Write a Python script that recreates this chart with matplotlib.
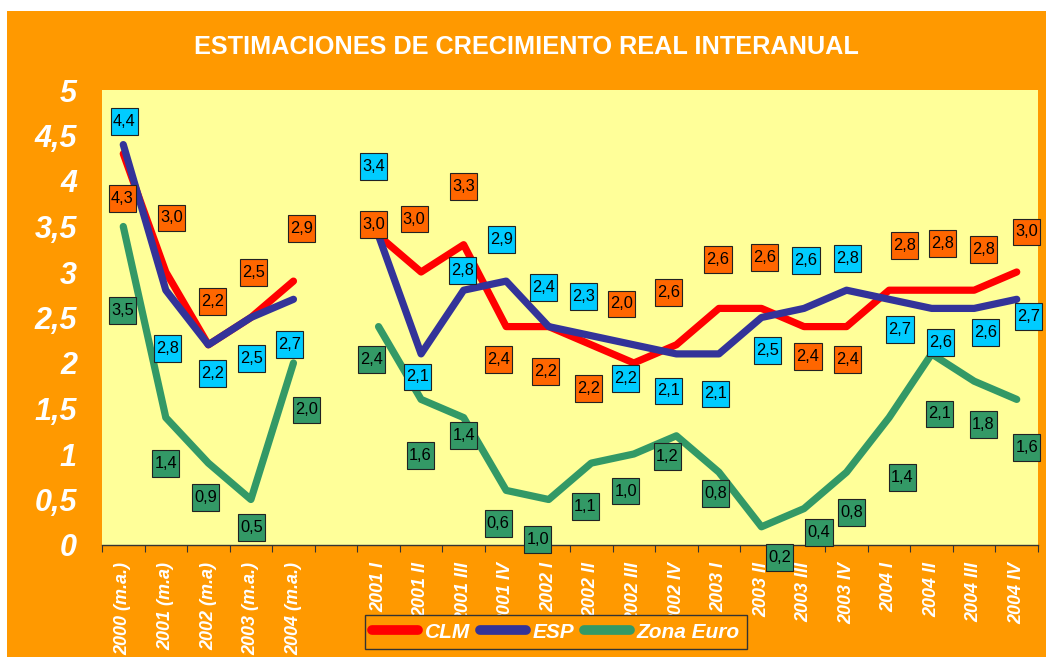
import matplotlib
matplotlib.use("Agg")
import matplotlib.pyplot as plt
from matplotlib.patches import Rectangle
from matplotlib.lines import Line2D
from matplotlib.path import Path
from matplotlib import font_manager

# ---------------- data ----------------
annual_labels = ["2000 (m.a.)", "2001 (m.a)", "2002 (m.a)", "2003 (m.a.)", "2004 (m.a.)"]
quarter_labels = ["2001 I", "2001 II", "2001 III", "2001 IV",
                  "2002 I", "2002 II", "2002 III", "2002 IV",
                  "2003 I", "2003 II", "2003 III", "2003 IV",
                  "2004 I", "2004 II", "2004 III", "2004 IV"]

clm_annual = [4.3, 3.0, 2.2, 2.5, 2.9]
esp_annual = [4.4, 2.8, 2.2, 2.5, 2.7]
euro_annual = [3.5, 1.4, 0.9, 0.5, 2.0]

clm_quarter = [3.4, 3.0, 3.3, 2.4, 2.4, 2.2, 2.0, 2.2, 2.6, 2.6, 2.4, 2.4, 2.8, 2.8, 2.8, 3.0]
esp_quarter = [3.4, 2.1, 2.8, 2.9, 2.4, 2.3, 2.2, 2.1, 2.1, 2.5, 2.6, 2.8, 2.7, 2.6, 2.6, 2.7]
euro_quarter = [2.4, 1.6, 1.4, 0.6, 0.5, 0.9, 1.0, 1.2, 0.8, 0.2, 0.4, 0.8, 1.4, 2.1, 1.8, 1.6]

# data-label texts as printed in the chart
clm_annual_txt = [4.3, 3.0, 2.2, 2.5, 2.9]
esp_annual_txt = [4.4, 2.8, 2.2, 2.5, 2.7]
euro_annual_txt = [3.5, 1.4, 0.9, 0.5, 2.0]
clm_quarter_txt = [3.0, 3.0, 3.3, 2.4, 2.2, 2.2, 2.0, 2.6, 2.6, 2.6, 2.4, 2.4, 2.8, 2.8, 2.8, 3.0]
esp_quarter_txt = [3.4, 2.1, 2.8, 2.9, 2.4, 2.3, 2.2, 2.1, 2.1, 2.5, 2.6, 2.8, 2.7, 2.6, 2.6, 2.7]
euro_quarter_txt = [2.4, 1.6, 1.4, 0.6, 1.0, 1.1, 1.0, 1.2, 0.8, 0.2, 0.4, 0.8, 1.4, 2.1, 1.8, 1.6]

y_ticks = [0, 0.5, 1, 1.5, 2, 2.5, 3, 3.5, 4, 4.5, 5]

# ---------------- label placement (pixel offsets from the point) ----------------
clm_a_off = [(-1, -45), (6, 54), (4, 43), (3, 45), (8, 53)]
esp_a_off = [(1, 23), (2, -58), (4, -29), (1, -41), (-4, -45)]
euro_a_off = [(-1, -84), (0, -46), (-3, -34), (1, -28), (13, -47)]
clm_q_off = list(zip([-5, -7, 0, -8, -3, -3, -12, -8, -1, 3, 4, 1, 15, 11, 9, 10],
                     [11, 53, 58, -33, -45, -44, 59, 52, 49, 51, -30, -33, 45, 47, 41, 40]))
esp_q_off = list(zip([-5, -4, -1, -5, -5, -8, -8, -8, -3, 6, 2, 1, 11, 9, 11, 12],
                     [69, -23, 20, 42, 39, 39, -34, -37, -40, -33, 48, 32, -30, -34, -24, -17]))
euro_q_off = list(zip([-7, -1, 0, -8, -11, -6, -8, -9, -3, 18, 15, 5, 13, 8, 9, 10],
                      [-33, -56, -18, -33, -40, -43, -37, -21, -21, -31, -24, -40, -60, -60, -43, -48]))

# ---------------- styling ----------------
W, H = 1046, 657
ORANGE = "#FF9900"
YELLOW = "#FFFF99"
C_CLM, C_ESP, C_EURO = "#FF0000", "#333399", "#339966"
B_CLM, B_ESP, B_EURO = "#FF6600", "#00CCFF", "#339966"
FONT = "Liberation Sans"
names = {f.name for f in font_manager.fontManager.ttflist}
NARROW = "Liberation Sans Narrow" if "Liberation Sans Narrow" in names else FONT

plt.rcParams["font.family"] = [FONT, "DejaVu Sans"]

fig = plt.figure(figsize=(W / 100, H / 100), dpi=100, facecolor=ORANGE)
fig.patches.append(Rectangle((0, 0), 7 / W, 1, transform=fig.transFigure,
                             facecolor="white", edgecolor="none"))
fig.patches.append(Rectangle((0, 1 - 11 / H), 1, 11 / H, transform=fig.transFigure,
                             facecolor="white", edgecolor="none"))

ax = fig.add_axes([102 / W, 1 - 545 / H, (1038 - 102) / W, (545 - 90) / H])
ax.set_facecolor(YELLOW)
n_slots = len(annual_labels) + 1 + len(quarter_labels)
ax.set_xlim(0, n_slots)
ax.set_ylim(0, 5)

xa = [i + 0.5 for i in range(len(annual_labels))]
xq = [len(annual_labels) + 1 + i + 0.5 for i in range(len(quarter_labels))]

lw = 5.2
for xs, ys, c in [(xa, clm_annual, C_CLM), (xq, clm_quarter, C_CLM),
                  (xa, esp_annual, C_ESP), (xq, esp_quarter, C_ESP),
                  (xa, euro_annual, C_EURO), (xq, euro_quarter, C_EURO)]:
    ax.plot(xs, ys, color=c, lw=lw, solid_capstyle="round",
            solid_joinstyle="round", zorder=3)


def fmt(v):
    return f"{v:.1f}".replace(".", ",")


def tallbox(x0, y0, width, height, mutation_size):
    px = 0.13 * mutation_size
    py = 0.36 * mutation_size
    return Path([(x0 - px, y0 - py), (x0 + width + px, y0 - py),
                 (x0 + width + px, y0 + height + py), (x0 - px, y0 + height + py),
                 (x0 - px, y0 - py)], closed=True)


def put_labels(xs, ys, txts, offs, face):
    for x, y, t, (dx, dy) in zip(xs, ys, txts, offs):
        ax.annotate(fmt(t), (x, y), xytext=(dx, dy), textcoords="offset pixels",
                    ha="center", va="center", fontsize=11.8, color="black",
                    bbox=dict(boxstyle=tallbox, facecolor=face,
                              edgecolor="#222222", linewidth=0.8),
                    zorder=5, annotation_clip=False)


put_labels(xa, clm_annual, clm_annual_txt, clm_a_off, B_CLM)
put_labels(xa, esp_annual, esp_annual_txt, esp_a_off, B_ESP)
put_labels(xa, euro_annual, euro_annual_txt, euro_a_off, B_EURO)
put_labels(xq, clm_quarter, clm_quarter_txt, clm_q_off, B_CLM)
put_labels(xq, esp_quarter, esp_quarter_txt, esp_q_off, B_ESP)
put_labels(xq, euro_quarter, euro_quarter_txt, euro_q_off, B_EURO)

# axes styling
for s in ["left", "top", "right"]:
    ax.spines[s].set_visible(False)
ax.spines["bottom"].set_color("#333333")
ax.spines["bottom"].set_linewidth(1.0)

ax.set_yticks(y_ticks)
ax.set_yticklabels([fmt(v).replace(",0", "") if v == int(v) else fmt(v) for v in y_ticks],
                   fontsize=22, fontweight="bold", fontstyle="italic", color="white")
ax.tick_params(axis="y", length=0, pad=18)

ax.set_xticks(range(n_slots + 1))
ax.set_xticklabels([])
ax.tick_params(axis="x", which="major", direction="out", length=5, color="#333333")
ax.set_xticks(xa + xq, minor=True)
ax.set_xticklabels(annual_labels + quarter_labels, minor=True, rotation=90,
                   fontsize=13, fontweight="bold", fontstyle="italic", color="white",
                   va="top", ha="center")
ax.tick_params(axis="x", which="minor", length=0, pad=12)

title_size = 20 if NARROW != FONT else 18.2
fig.text(526 / W, 1 - 47 / H, "ESTIMACIONES DE CRECIMIENTO REAL INTERANUAL",
         ha="center", va="center", fontsize=title_size, fontweight="bold",
         color="white", family=[NARROW, "DejaVu Sans"])

handles = [Line2D([0], [0], color=c, lw=7, solid_capstyle="round")
           for c in (C_CLM, C_ESP, C_EURO)]
leg = fig.legend(handles, ["CLM", "ESP", "Zona Euro"], loc="center",
                 bbox_to_anchor=(556 / W, 1 - 632 / H), ncol=3, frameon=True,
                 fancybox=False, facecolor=ORANGE, edgecolor="#333333",
                 handlelength=2.2, handletextpad=0.3, columnspacing=0.5,
                 borderpad=0.35,
                 prop=dict(family=NARROW, size=15, weight="bold", style="italic"))
leg.get_frame().set_linewidth(1.0)
leg.get_frame().set_alpha(1)
for t in leg.get_texts():
    t.set_color("white")

fig.savefig("out.png", dpi=100, facecolor=fig.get_facecolor())
